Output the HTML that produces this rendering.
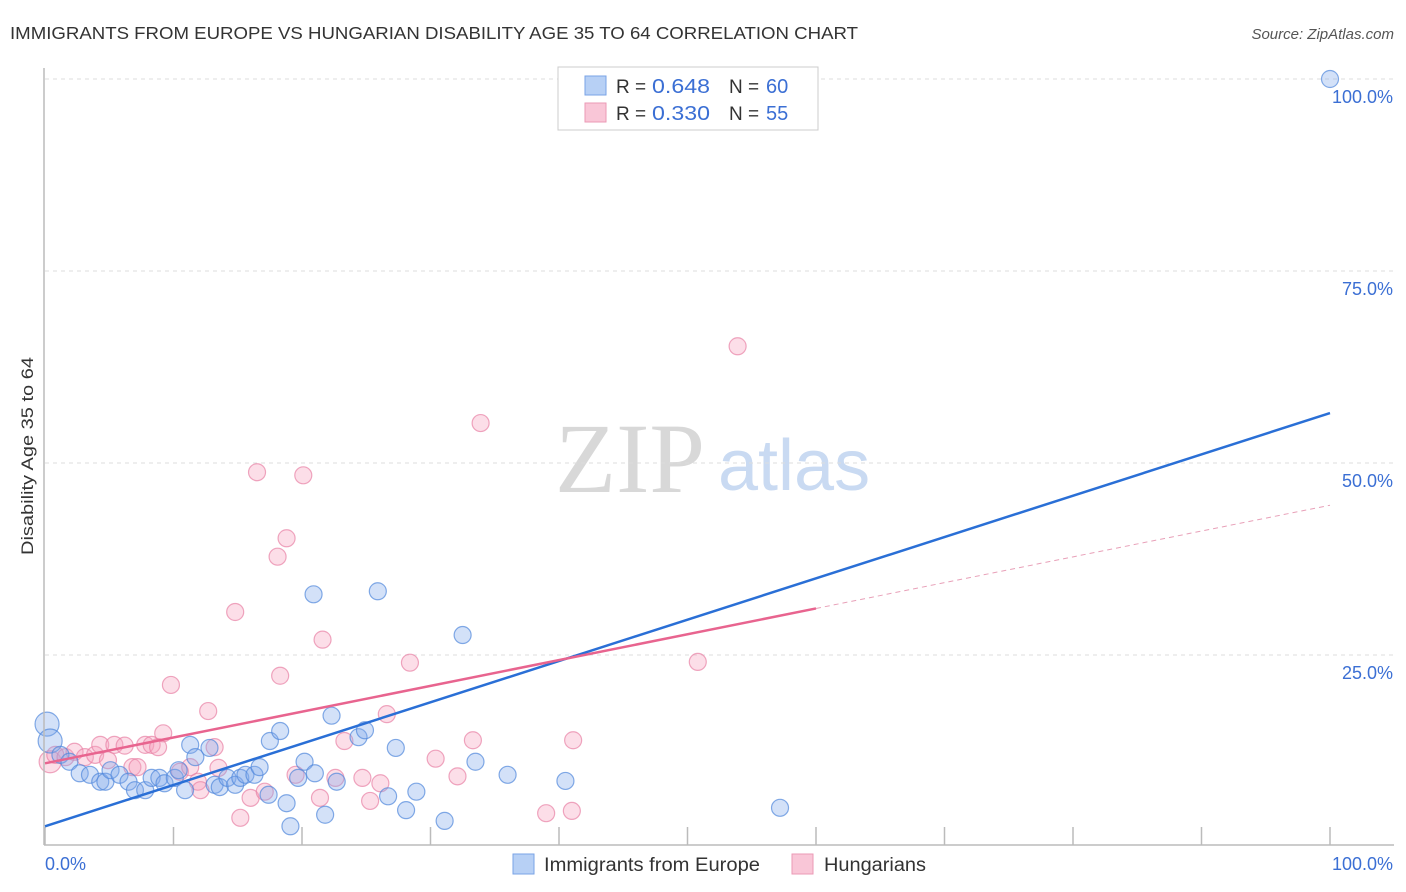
<!DOCTYPE html>
<html><head><meta charset="utf-8"><style>
body{margin:0;background:#fff;font-family:"Liberation Sans",sans-serif;}
#c{position:relative;width:1406px;height:892px;overflow:hidden;}
</style></head><body>
<div id="c">
<svg id="s" width="1406" height="892" xmlns="http://www.w3.org/2000/svg">
<text x="10" y="39" font-size="17.5" fill="#333" textLength="848" lengthAdjust="spacingAndGlyphs">IMMIGRANTS FROM EUROPE VS HUNGARIAN DISABILITY AGE 35 TO 64 CORRELATION CHART</text>
<text x="1394" y="39" font-size="15" fill="#555" font-style="italic" text-anchor="end">Source: ZipAtlas.com</text>
<text x="555" y="492" font-size="100" fill="#d8d8d8" font-family="Liberation Serif">ZIP</text>
<text x="718" y="490" font-size="72" fill="#c9daf2">atlas</text>
<text transform="translate(33,456) rotate(-90)" font-size="17" fill="#333" text-anchor="middle" textLength="198" lengthAdjust="spacingAndGlyphs">Disability Age 35 to 64</text>
<g id="grid"></g><g id="pts"></g><g id="lines"></g>
<line x1="44" y1="68" x2="44" y2="845" stroke="#bbb" stroke-width="1.5"/>
<line x1="44" y1="845" x2="1394" y2="845" stroke="#bbb" stroke-width="1.5"/>
<text x="45" y="870" font-size="18" fill="#3b6fd4">0.0%</text>
<text x="1393" y="870" font-size="18" fill="#3b6fd4" text-anchor="end">100.0%</text>
<g>
<rect x="558" y="67" width="260" height="63" fill="#fff" stroke="#ccc"/>
<rect x="585" y="76" width="21" height="19" fill="#b7d0f5" stroke="#7aa3e6"/>
<rect x="585" y="103" width="21" height="19" fill="#f9c6d7" stroke="#eb9ab6"/>
<text x="616" y="93" font-size="19" fill="#333">R =</text>
<text x="652" y="93" font-size="20" fill="#3b6fd4" textLength="58" lengthAdjust="spacingAndGlyphs">0.648</text>
<text x="729" y="93" font-size="19" fill="#333">N =</text>
<text x="766" y="93" font-size="20" fill="#3b6fd4">60</text>
<text x="616" y="120" font-size="19" fill="#333">R =</text>
<text x="652" y="120" font-size="20" fill="#3b6fd4" textLength="58" lengthAdjust="spacingAndGlyphs">0.330</text>
<text x="729" y="120" font-size="19" fill="#333">N =</text>
<text x="766" y="120" font-size="20" fill="#3b6fd4">55</text>
</g>
<g>
<rect x="513" y="854" width="21" height="20" fill="#b7d0f5" stroke="#7aa3e6"/>
<text x="544" y="871" font-size="19" fill="#333" textLength="216" lengthAdjust="spacingAndGlyphs">Immigrants from Europe</text>
<rect x="792" y="854" width="21" height="20" fill="#f9c6d7" stroke="#eb9ab6"/>
<text x="824" y="871" font-size="19" fill="#333" textLength="102" lengthAdjust="spacingAndGlyphs">Hungarians</text>
</g>
</svg></div>
<script>
const yTicks=[25,50,75,100];
const yTickLabels=["25.0%","50.0%","75.0%","100.0%"];
const xTicks=[0,10,20,30,40,50,60,70,80,90,100];
const blueX=[0.16,0.4,1.2,1.9,2.7,3.5,4.3,4.7,5.1,5.8,6.5,7.0,7.8,8.3,8.9,9.3,10.1,10.4,10.9,11.3,11.7,12.8,13.2,13.6,14.2,14.8,15.2,15.6,16.3,16.7,17.4,17.5,18.3,18.8,19.1,19.7,20.2,21.0,20.9,21.8,22.3,22.7,24.4,24.9,25.9,26.7,27.3,28.1,28.9,31.1,32.5,33.5,36.0,40.5,57.2,100];
const blueY=[16.0,13.8,12.0,11.1,9.6,9.4,8.5,8.5,10.0,9.4,8.5,7.4,7.4,9.0,9.0,8.3,9.0,10.0,7.4,13.3,11.7,12.9,8.1,7.8,9.0,8.1,9.0,9.4,9.4,10.4,6.8,13.8,15.1,5.7,2.7,9.0,11.1,9.6,32.9,4.2,17.1,8.5,14.3,15.2,33.3,6.6,12.9,4.8,7.2,3.4,27.6,11.1,9.4,8.6,5.1,100];
const pinkX=[0.4,0.8,1.6,2.3,3.1,3.9,4.3,4.9,5.4,6.2,6.8,7.2,7.8,8.3,8.8,9.2,9.8,10.5,11.3,11.9,12.1,12.7,13.2,13.5,14.8,15.2,16.0,16.5,17.1,18.1,18.3,18.8,19.5,20.1,21.4,21.6,22.6,23.3,24.7,25.3,26.1,26.6,28.4,30.4,32.1,33.3,33.9,39.0,41.0,41.1,50.8,53.9];
const pinkY=[11.1,12.0,11.7,12.4,11.7,12.0,13.3,11.3,13.3,13.2,10.4,10.4,13.3,13.3,13.0,14.8,21.1,9.8,10.4,8.5,7.4,17.7,13.0,10.3,30.6,3.8,6.4,48.8,7.2,37.8,22.3,40.2,9.4,48.4,6.4,27.0,9.0,13.8,9.0,6.0,8.3,17.3,24.0,11.5,9.2,13.9,55.2,4.4,4.7,13.9,24.1,65.2];
const blueFit=[2.7,56.5];
const pinkFit=[10.9,44.5];
const pinkSolidEnd=60;
const NS="http://www.w3.org/2000/svg";
const sx=v=>45+v*12.85, sy=v=>847-v*7.68;
function mk(t,a,p){const e=document.createElementNS(NS,t);for(const k in a)e.setAttribute(k,a[k]);p.appendChild(e);return e;}
const grid=document.getElementById('grid'),pts=document.getElementById('pts'),lines=document.getElementById('lines');
yTicks.forEach((v,i)=>{
 const l=mk('line',{x1:45,x2:1394,y1:sy(v),y2:sy(v),stroke:'#ddd','stroke-dasharray':'4 4'},grid);
 
 
 const t=mk('text',{x:1393,y:sy(v)+24,'font-size':18,fill:'#3b6fd4','text-anchor':'end'},grid);
 t.textContent=yTickLabels[i];
 
 
});
xTicks.forEach(v=>{
 const l=mk('line',{x1:sx(v),x2:sx(v),y1:827,y2:845,stroke:'#bbb','stroke-width':1.5},grid);
 
 
});
pinkX.forEach((x,i)=>{
 const c=mk('circle',{cx:sx(x),cy:sy(pinkY[i]),r:(i<1?11:8.5),fill:'rgba(245,160,190,0.35)',stroke:'rgba(232,130,165,0.7)','stroke-width':1.2},pts);
 
 
});
blueX.forEach((x,i)=>{
 const c=mk('circle',{cx:sx(x),cy:sy(blueY[i]),r:(i<2?12:8.5),fill:'rgba(130,170,235,0.35)',stroke:'rgba(80,135,220,0.7)','stroke-width':1.2},pts);
 
 
});
const fy=(f,x)=>f[0]+(f[1]-f[0])*x/100;
let l=mk('line',{x1:sx(0),y1:sy(blueFit[0]),x2:sx(100),y2:sy(blueFit[1]),stroke:'#2a6fd6','stroke-width':2.5},lines);


l=mk('line',{x1:sx(0),y1:sy(pinkFit[0]),x2:sx(pinkSolidEnd),y2:sy(fy(pinkFit,pinkSolidEnd)),stroke:'#e8648f','stroke-width':2.5},lines);


l=mk('line',{x1:sx(pinkSolidEnd),y1:sy(fy(pinkFit,pinkSolidEnd)),x2:sx(100),y2:sy(pinkFit[1]),stroke:'#e8a0b8','stroke-width':1,'stroke-dasharray':'5 4'},lines);


</script>
</body></html>
